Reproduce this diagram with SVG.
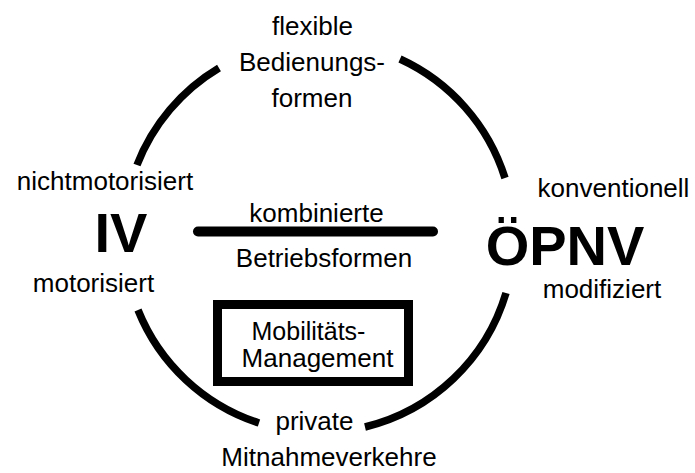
<svg xmlns="http://www.w3.org/2000/svg" width="695" height="473" viewBox="0 0 695 473">
<style>
  text { font-family: "Liberation Sans", Arial, sans-serif; fill: #000; }
  .t { font-size: 26px; text-anchor: middle; }
  .big { font-size: 56px; font-weight: bold; text-anchor: middle; }
  .arc { fill: none; stroke: #000; stroke-width: 7.5; stroke-linecap: butt; }
  .bar { stroke: #000; stroke-width: 10; stroke-linecap: round; }
  .box { fill: #fff; stroke: #000; stroke-width: 9; }
</style>
<rect width="695" height="473" fill="#fff"/>
<g id="connectors">
  <path class="arc" d="M 219 68 A 195.5 195.5 0 0 0 137 165"/>
  <path class="arc" d="M 400 59 A 195.5 195.5 0 0 1 505 178"/>
  <path class="arc" d="M 138 310 A 195.5 195.5 0 0 0 259 423"/>
  <path class="arc" d="M 506 293 A 195.5 195.5 0 0 1 365 427"/>
  <line class="bar" x1="198" y1="231.5" x2="433" y2="231.5"/>
</g>
<g id="top-label">
  <text class="t" x="312.5" y="35">flexible</text>
  <text class="t" x="312" y="71">Bedienungs-</text>
  <text class="t" x="312" y="107">formen</text>
</g>
<g id="IV">
  <text class="t" x="105" y="190">nichtmotorisiert</text>
  <text class="big" x="121" y="252">IV</text>
  <text class="t" x="93.5" y="292">motorisiert</text>
</g>
<g id="OEPNV">
  <text class="t" x="613.5" y="197">konventionell</text>
  <text class="big" x="565" y="265">ÖPNV</text>
  <text class="t" x="602" y="298">modifiziert</text>
</g>
<g id="center-label">
  <text class="t" x="316.5" y="222">kombinierte</text>
  <text class="t" x="324" y="267">Betriebsformen</text>
</g>
<g id="mobility-management">
  <rect class="box" x="217.5" y="304.5" width="191" height="77"/>
  <text class="t" x="308.5" y="340" style="font-size:25px">Mobilitäts-</text>
  <text class="t" x="317.5" y="367">Management</text>
</g>
<g id="bottom-label">
  <text class="t" x="314.5" y="430">private</text>
  <text class="t" x="329" y="466">Mitnahmeverkehre</text>
</g>
</svg>
